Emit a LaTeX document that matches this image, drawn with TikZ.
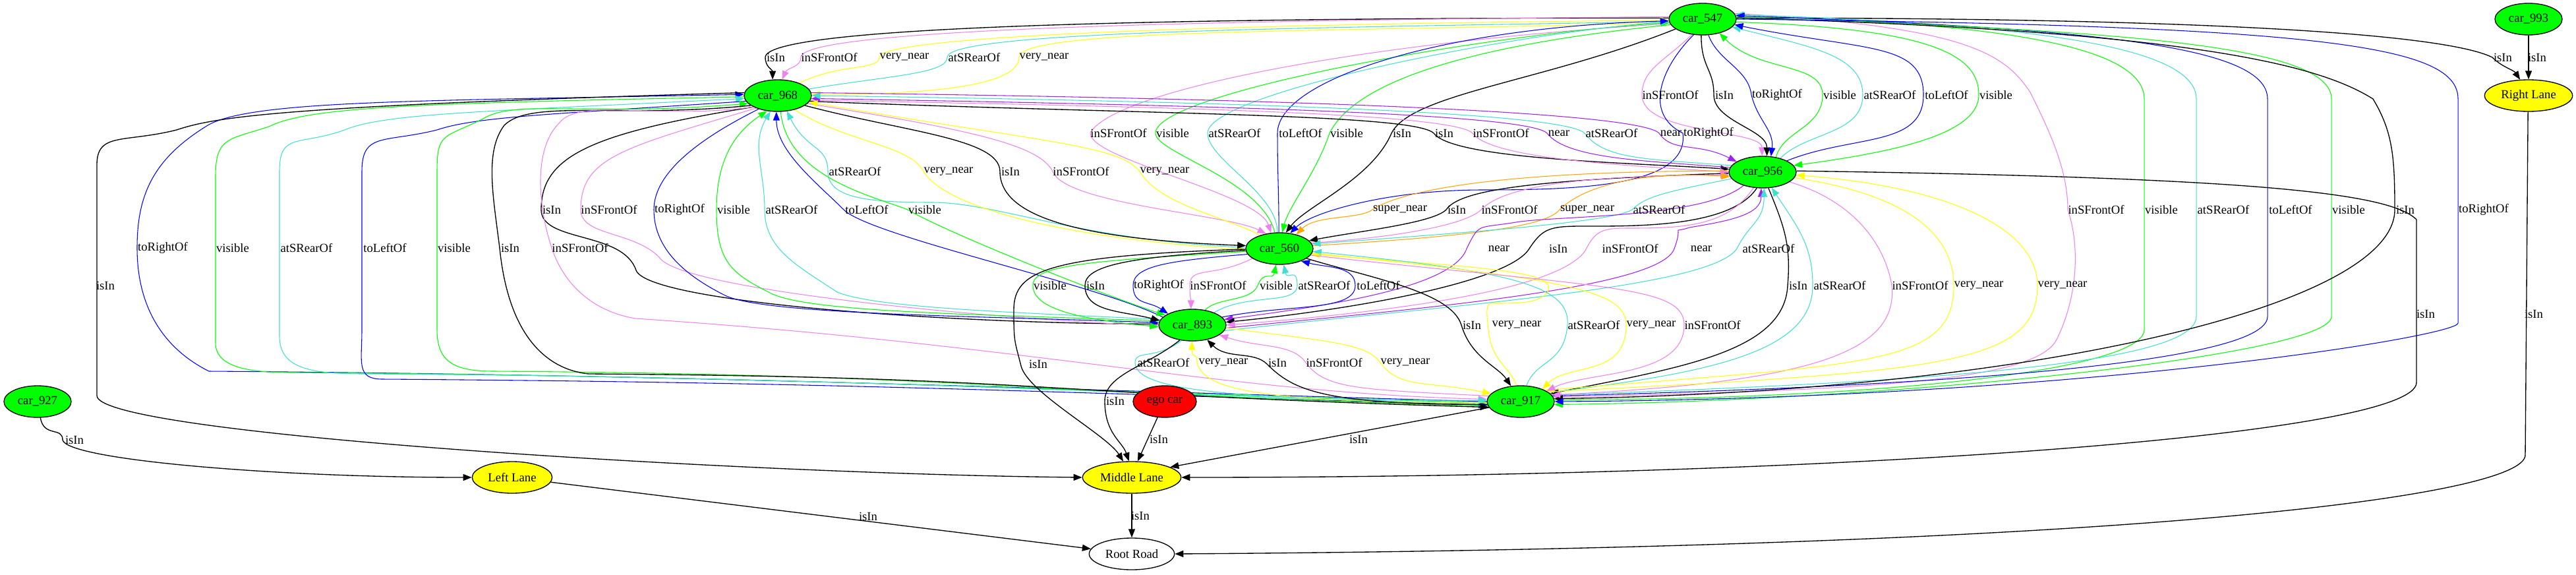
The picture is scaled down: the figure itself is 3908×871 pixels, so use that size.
\documentclass[tikz,border=0pt]{standalone}
\usepackage{fontspec}
\setmainfont{Liberation Serif}
\usetikzlibrary{shapes.geometric,arrows.meta}
\definecolor{gvgreen}{RGB}{0,255,0}
\definecolor{gvviolet}{RGB}{238,130,238}
\definecolor{gvturq}{RGB}{64,224,208}
\definecolor{gvblue}{RGB}{0,0,255}
\definecolor{gvyellow}{RGB}{255,255,0}
\definecolor{gvpurple}{RGB}{160,32,240}
\definecolor{gvorange}{RGB}{255,165,0}
\definecolor{gvred}{RGB}{255,0,0}
\pgfdeclarelayer{bglayer}
\pgfdeclarelayer{edgelayer}
\pgfsetlayers{bglayer,edgelayer,main}
\newcommand{\gvfont}{\fontsize{14pt}{16.8pt}\selectfont}
\begin{document}
\begin{tikzpicture}[x=0.75pt,y=0.75pt,
  car/.style={ellipse,draw=black,line width=1pt,fill=gvgreen,minimum width=76.5pt,minimum height=36pt,inner sep=0pt,font=\gvfont},
  lane/.style={ellipse,draw=black,line width=1pt,fill=gvyellow,minimum height=36pt,inner sep=0pt,font=\gvfont},
  egonode/.style={ellipse,draw=black,line width=1pt,fill=gvred,minimum width=72pt,minimum height=36pt,inner sep=0pt,font=\gvfont},
  rootnode/.style={ellipse,draw=black,line width=1pt,fill=white,minimum width=97pt,minimum height=36pt,inner sep=0pt,font=\gvfont},
  lbl/.style={inner sep=0pt,font=\gvfont},
  fw/.style={-{Triangle[length=9.75pt,width=7.5pt]}},
  bw/.style={{Triangle[length=9.75pt,width=7.5pt]}-},
  kb/.style={draw=black,line width=1pt},
  kv/.style={draw=gvviolet,line width=0.8pt},
  ky/.style={draw=gvyellow,line width=0.8pt},
  kt/.style={draw=gvturq,line width=0.8pt},
  kbl/.style={draw=gvblue,line width=0.8pt},
  kg/.style={draw=gvgreen,line width=0.8pt},
  kp/.style={draw=gvpurple,line width=0.8pt},
  ko/.style={draw=gvorange,line width=0.8pt}]
\begin{pgfonlayer}{bglayer}
\fill[white] (0,0) rectangle (3908,-871);
\end{pgfonlayer}
\useasboundingbox (0,0) rectangle (3908,-871);
% nodes
\node[car] (c547) at (2583,-29) {car\_547};
\node[car] (c993) at (3836,-29) {car\_993};
\node[car] (c968) at (1180,-145) {car\_968};
\node[lane,minimum width=100pt] (rl) at (3836,-145) {Right Lane};
\node[car] (c956) at (2674,-261) {car\_956};
\node[car] (c560) at (1941,-377) {car\_560};
\node[car] (c893) at (1809,-493) {car\_893};
\node[car] (c917) at (2307,-609) {car\_917};
\node[egonode] (ego) at (1767,-609) {ego car};
\node[car] (c927) at (57,-609) {car\_927};
\node[lane,minimum width=112pt] (ml) at (1717,-724) {Middle Lane};
\node[lane,minimum width=91pt] (ll) at (777,-724) {Left Lane};
\node[rootnode] (rr) at (1717,-840) {Root Road};
% labels
\node[lbl] (l1) at (1177,-87) {isIn};
\node[lbl] (l2) at (1258,-87) {inSFrontOf};
\node[lbl] (l3) at (1372,-87) {very\_near};
\node[lbl] (l4) at (1478,-87) {atSRearOf};
\node[lbl] (l5) at (1584,-87) {very\_near};
\node[lbl] (l6) at (3797,-87) {isIn};
\node[lbl] (l7) at (3849,-87) {isIn};
\node[lbl] (l8) at (2534,-144) {inSFrontOf};
\node[lbl] (l9) at (2616,-144) {isIn};
\node[lbl] (l10) at (2696,-144) {toRightOf};
\node[lbl] (l11) at (2791,-144) {visible};
\node[lbl] (l12) at (2867,-144) {atSRearOf};
\node[lbl] (l13) at (2953,-144) {toLeftOf};
\node[lbl] (l14) at (3028,-144) {visible};
\node[lbl] (l15) at (1697,-202) {inSFrontOf};
\node[lbl] (l16) at (1779,-202) {visible};
\node[lbl] (l17) at (1873,-202) {atSRearOf};
\node[lbl] (l18) at (1973,-202) {toLeftOf};
\node[lbl] (l19) at (2043,-202) {visible};
\node[lbl] (l20) at (2127,-202) {isIn};
\node[lbl] (l21) at (2191,-202) {isIn};
\node[lbl] (l22) at (2277,-202) {inSFrontOf};
\node[lbl] (l23) at (2365,-202) {near};
\node[lbl] (l24) at (2445,-202) {atSRearOf};
\node[lbl] (l25) at (2535,-202) {near};
\node[lbl] (l26) at (2592,-202) {toRightOf};
\node[lbl] (l27) at (1297,-260) {atSRearOf};
\node[lbl] (l28) at (1439,-260) {very\_near};
\node[lbl] (l29) at (1533,-260) {isIn};
\node[lbl] (l30) at (1640,-260) {inSFrontOf};
\node[lbl] (l31) at (1767,-260) {very\_near};
\node[lbl] (l32) at (837,-318) {isIn};
\node[lbl] (l33) at (924,-318) {inSFrontOf};
\node[lbl] (l34) at (1031,-318) {toRightOf};
\node[lbl] (l35) at (1113,-318) {visible};
\node[lbl] (l36) at (1201,-318) {atSRearOf};
\node[lbl] (l37) at (1315,-318) {toLeftOf};
\node[lbl] (l38) at (1403,-318) {visible};
\node[lbl] (l39) at (2124,-318) {super\_near};
\node[lbl] (l40) at (2210,-318) {isIn};
\node[lbl] (l41) at (2290,-318) {inSFrontOf};
\node[lbl] (l42) at (2408,-318) {super\_near};
\node[lbl] (l43) at (2517,-318) {atSRearOf};
\node[lbl] (l44) at (3180,-318) {inSFrontOf};
\node[lbl] (l45) at (3279,-318) {visible};
\node[lbl] (l46) at (3373,-318) {atSRearOf};
\node[lbl] (l47) at (3475,-318) {toLeftOf};
\node[lbl] (l48) at (3563,-318) {visible};
\node[lbl] (l49) at (3649,-318) {isIn};
\node[lbl] (l50) at (3768,-318) {toRightOf};
\node[lbl] (l51) at (247,-376) {toRightOf};
\node[lbl] (l52) at (353,-376) {visible};
\node[lbl] (l53) at (465,-376) {atSRearOf};
\node[lbl] (l54) at (584,-376) {toLeftOf};
\node[lbl] (l55) at (689,-376) {visible};
\node[lbl] (l56) at (774,-376) {isIn};
\node[lbl] (l57) at (880,-376) {inSFrontOf};
\node[lbl] (l58) at (2274,-377) {near};
\node[lbl] (l59) at (2364,-377) {isIn};
\node[lbl] (l60) at (2473,-377) {inSFrontOf};
\node[lbl] (l61) at (2581,-377) {near};
\node[lbl] (l62) at (2683,-377) {atSRearOf};
\node[lbl] (l63) at (160,-433) {isIn};
\node[lbl] (l64) at (1593,-433) {visible};
\node[lbl] (l65) at (1662,-433) {isIn};
\node[lbl] (l66) at (1758,-433) {toRightOf};
\node[lbl] (l67) at (1848,-433) {inSFrontOf};
\node[lbl] (l68) at (1936,-433) {visible};
\node[lbl] (l69) at (2009,-433) {atSRearOf};
\node[lbl] (l70) at (2091,-433) {toLeftOf};
\node[lbl] (l71) at (2728,-433) {isIn};
\node[lbl] (l72) at (2791,-433) {atSRearOf};
\node[lbl] (l73) at (2913,-433) {inSFrontOf};
\node[lbl] (l74) at (3002,-433) {very\_near};
\node[lbl] (l75) at (3129,-433) {very\_near};
\node[lbl] (l76) at (3680,-476) {isIn};
\node[lbl] (l77) at (3844,-476) {isIn};
\node[lbl] (l78) at (2233,-493) {isIn};
\node[lbl] (l79) at (2301,-493) {very\_near};
\node[lbl] (l80) at (2418,-493) {atSRearOf};
\node[lbl] (l81) at (2505,-493) {very\_near};
\node[lbl] (l82) at (2598,-493) {inSFrontOf};
\node[lbl] (l83) at (1575,-552) {isIn};
\node[lbl] (l84) at (1765,-550) {atSRearOf};
\node[lbl] (l85) at (1856,-550) {very\_near};
\node[lbl] (l86) at (1938,-550) {isIn};
\node[lbl] (l87) at (2024,-550) {inSFrontOf};
\node[lbl] (l88) at (2132,-550) {very\_near};
\node[lbl] (l89) at (1692,-608) {isIn};
\node[lbl] (l90) at (1758,-666) {isIn};
\node[lbl] (l91) at (2061,-666) {isIn};
\node[lbl] (l92) at (113,-667) {isIn};
\node[lbl] (l93) at (1730,-782) {isIn};
\node[lbl] (l94) at (1317,-783) {isIn};
\begin{pgfonlayer}{edgelayer}
% car_547 - car_968
\draw[kb,fw] (c547.178) .. controls +(-700,0) and +(0,50) .. (1161,-87) .. controls +(0,-15) and +(0,15) .. (c968.108);
\draw[kv,fw] (c547.176) .. controls +(-650,-5) and +(0,45) .. (1215,-87) .. controls +(0,-15) and +(8,18) .. (c968.75);
\draw[ky,bw] (c547.182) .. controls +(-600,-5) and +(0,35) .. (1334,-87) .. controls +(0,-20) and +(60,30) .. (c968.30);
\draw[kt,bw] (c547.184) .. controls +(-550,-10) and +(0,40) .. (1437,-87) .. controls +(0,-25) and +(120,20) .. (c968.12);
\draw[ky,fw] (c547.186) .. controls +(-500,-15) and +(0,45) .. (1546,-87) .. controls +(0,-40) and +(200,0) .. (c968.2);
% lanes right
\draw[kb,fw] (c547.2) .. controls +(800,0) and +(-60,30) .. (3781,-87) .. controls +(15,-15) and +(-10,15) .. (rl.118);
\draw[kb,fw] (c993) -- (rl);
% car_547 - car_956
\draw[kv,fw] (c547.235) .. controls +(-40,-40) and +(0,40) .. (2491,-144) .. controls +(0,-60) and +(0,40) .. (c956.92);
\draw[kb,fw] (c547.265) .. controls +(0,-50) and +(0,40) .. (2600,-144) .. controls +(0,-40) and +(0,40) .. (c956.75);
\draw[kbl,fw] (c547.290) .. controls +(15,-40) and +(-5,40) .. (2657,-144) .. controls +(10,-40) and +(5,40) .. (c956.62);
\draw[kg,bw] (c547.320) .. controls +(60,-60) and +(0,50) .. (2765,-144) .. controls +(0,-50) and +(10,40) .. (c956.48);
\draw[kt,bw] (c547.345) .. controls +(120,-30) and +(0,60) .. (2826,-144) .. controls +(0,-60) and +(40,40) .. (c956.38);
\draw[kbl,bw] (c547.350) .. controls +(200,-40) and +(0,80) .. (2918,-144) .. controls +(0,-80) and +(100,40) .. (c956.25);
\draw[kg,fw] (c547.355) .. controls +(300,-10) and +(0,60) .. (3002,-144) .. controls +(0,-60) and +(150,20) .. (c956.12);
% car_547 - car_560
\draw[kv,fw] (c547.188) .. controls +(-500,-30) and +(30,60) .. (1654,-202) .. controls +(0,-40) and +(-20,60) .. (c560.118);
\draw[kg,bw] (c547.186) .. controls +(-300,-20) and +(0,60) .. (1753,-202) .. controls +(0,-30) and +(-20,80) .. (c560.106);
\draw[kt,bw] (c547.184) .. controls +(-250,-20) and +(0,60) .. (1832,-202) .. controls +(0,-40) and +(0,60) .. (c560.97);
\draw[kbl,bw] (c547.183) .. controls +(-350,-10) and +(0,80) .. (1938,-202) .. controls +(0,-60) and +(0,60) .. (c560.92);
\draw[kg,fw] (c547.190) .. controls +(-300,-30) and +(40,80) .. (2017,-202) .. controls +(-20,-60) and +(10,40) .. (c560.80);
\draw[kb,fw] (c547.200) .. controls +(-200,-80) and +(30,60) .. (2111,-202) .. controls +(-30,-70) and +(30,40) .. (c560.68);
\draw[kbl,fw] (c547.240) .. controls +(-50,-50) and +(-60,30) .. (2553,-202) .. controls +(10,-80) and +(150,0) .. (2250,-288) .. controls +(-150,0) and +(30,30) .. (c560.55);
% car_968 - car_956
\draw[kb,fw] (c968.350) .. controls +(500,-20) and +(-30,30) .. (2175,-202) .. controls +(30,-40) and +(-150,10) .. (c956.175);
\draw[kv,fw] (c968.352) .. controls +(550,-10) and +(-30,30) .. (2234,-202) .. controls +(30,-40) and +(-150,10) .. (c956.180);
\draw[kp,bw] (c968.355) .. controls +(600,-10) and +(-30,30) .. (2347,-202) .. controls +(30,-40) and +(-120,10) .. (c956.172);
\draw[kt,bw] (c968.0) .. controls +(700,-10) and +(-30,30) .. (2404,-202) .. controls +(30,-40) and +(-130,10) .. (c956.168);
\draw[kp,fw] (c968.5) .. controls +(800,-10) and +(-30,30) .. (2517,-202) .. controls +(20,-30) and +(-60,30) .. (c956.158);
% car_968 - car_560
\draw[kt,bw] (c968.300) .. controls +(30,-60) and +(0,40) .. (1256,-260) .. controls +(0,-40) and +(-100,0) .. (1414,-307) .. controls +(100,0) and +(-250,10) .. (c560.178);
\draw[ky,fw] (c968.320) .. controls +(80,-50) and +(-20,40) .. (1401,-260) .. controls +(30,-50) and +(-300,20) .. (c560.182);
\draw[kb,fw] (c968.340) .. controls +(150,-40) and +(0,50) .. (1517,-260) .. controls +(0,-70) and +(-250,10) .. (c560.175);
\draw[kv,fw] (c968.345) .. controls +(250,-40) and +(-20,40) .. (1597,-260) .. controls +(20,-50) and +(-60,30) .. (c560.132);
\draw[ky,bw] (c968.348) .. controls +(350,-60) and +(-30,40) .. (1729,-260) .. controls +(30,-50) and +(-60,30) .. (c560.145);
% car_968 - car_893
\draw[kb,fw] (c968.205) .. controls +(-250,-40) and +(0,80) .. (821,-318) .. controls +(0,-50) and +(-20,60) .. (965,-410) .. controls +(20,-50) and +(-300,0) .. (c893.178);
\draw[kv,fw] (c968.210) .. controls +(-200,-60) and +(0,80) .. (881,-318) .. controls +(0,-40) and +(-40,40) .. (1000,-390) .. controls +(30,-50) and +(-250,10) .. (c893.181);
\draw[kbl,fw] (c968.215) .. controls +(-80,-40) and +(0,60) .. (992,-318) .. controls +(0,-60) and +(-60,30) .. (1100,-448) .. controls +(60,-30) and +(-250,10) .. (c893.176);
\draw[kg,bw] (c968.235) .. controls +(-60,-40) and +(0,60) .. (1087,-318) .. controls +(0,-80) and +(-60,30) .. (1170,-445) .. controls +(60,-30) and +(-250,10) .. (c893.173);
\draw[kt,bw] (c968.245) .. controls +(-30,-50) and +(0,60) .. (1160,-318) .. controls +(0,-60) and +(-60,40) .. (1270,-443) .. controls +(60,-25) and +(-200,10) .. (c893.170);
\draw[kbl,bw] (c968.265) .. controls +(0,-60) and +(-40,40) .. (1280,-318) .. controls +(40,-40) and +(-100,50) .. (c893.165);
\draw[kg,fw] (c968.280) .. controls +(10,-100) and +(-50,20) .. (1377,-318) .. controls +(50,-30) and +(-120,40) .. (c893.160);
% car_956 - car_560
\draw[ko,fw] (c956.178) .. controls +(-400,0) and +(30,20) .. (2082,-318) .. controls +(-20,-15) and +(30,30) .. (c560.40);
\draw[kb,fw] (c956.182) .. controls +(-300,-10) and +(20,30) .. (2194,-318) .. controls +(-20,-20) and +(80,15) .. (c560.15);
\draw[kv,fw] (c560.10) .. controls +(150,10) and +(-20,-20) .. (2247,-318) .. controls +(20,20) and +(-300,0) .. (c956.185);
\draw[ko,fw] (c560.5) .. controls +(250,15) and +(-20,-25) .. (2366,-318) .. controls +(30,30) and +(-150,10) .. (c956.188);
\draw[kt,fw] (c956.192) .. controls +(-100,-20) and +(20,20) .. (2476,-318) .. controls +(-30,-20) and +(200,15) .. (c560.8);
% car_547 - car_917
\draw[kv,fw] (c547.10) .. controls +(350,-20) and +(-40,60) .. (3080,-140) .. controls +(30,-60) and +(0,60) .. (3137,-318) .. controls +(20,-60) and +(30,60) .. (3120,-515) .. controls +(-30,-60) and +(500,10) .. (c917.8);
\draw[kg,bw] (c547.5) .. controls +(400,-10) and +(0,80) .. (3253,-150) -- (3253,-500) .. controls +(0,-60) and +(500,0) .. (c917.3);
\draw[kt,bw] (c547.8) .. controls +(450,-15) and +(0,80) .. (3332,-150) -- (3332,-480) .. controls +(0,-70) and +(600,20) .. (c917.12);
\draw[kbl,bw] (c547.6) .. controls +(550,-20) and +(0,80) .. (3440,-150) -- (3440,-480) .. controls +(0,-70) and +(600,15) .. (c917.10);
\draw[kg,fw] (c547.3) .. controls +(600,-20) and +(0,80) .. (3537,-150) -- (3537,-480) .. controls +(0,-60) and +(500,5) .. (c917.355);
\draw[kb,fw] (c547.2) .. controls +(700,-20) and +(-80,50) .. (3600,-150) .. controls +(30,-50) and +(0,80) .. (3633,-318) .. controls +(0,-150) and +(700,10) .. (c917.5);
\draw[kbl,fw] (c547.0) .. controls +(900,-10) and +(0,80) .. (3729,-150) -- (3729,-490) .. controls +(0,-20) and +(800,5) .. (c917.0);
% car_968 - car_917 (far left)
\draw[kbl,bw] (c968.178) .. controls +(-500,-10) and +(60,40) .. (312,-192) .. controls +(-80,-50) and +(0,80) .. (208,-376) .. controls +(0,-100) and +(-60,30) .. (317,-563) .. controls +(700,-5) and +(-700,20) .. (c917.180);
\draw[kg,fw] (c968.182) .. controls +(-500,-10) and +(60,30) .. (408,-192) .. controls +(-60,-20) and +(0,60) .. (327,-267) -- (327,-520) .. controls +(0,-40) and +(-60,0) .. (446,-565) .. controls +(700,-5) and +(-700,20) .. (c917.182);
\draw[kt,bw] (c968.185) .. controls +(-400,-20) and +(60,25) .. (523,-197) .. controls +(-70,-25) and +(0,60) .. (424,-260) -- (424,-510) .. controls +(0,-50) and +(-80,0) .. (554,-567) .. controls +(700,-5) and +(-700,20) .. (c917.184);
\draw[kbl,fw] (c968.190) .. controls +(-300,-20) and +(60,20) .. (663,-197) .. controls +(-80,-20) and +(0,60) .. (549,-260) -- (549,-500) .. controls +(0,-50) and +(-40,0) .. (580,-575) .. controls +(700,-5) and +(-700,20) .. (c917.186);
\draw[kg,bw] (c968.195) .. controls +(-250,-20) and +(50,30) .. (733,-180) .. controls +(-60,-30) and +(0,60) .. (663,-260) -- (663,-500) .. controls +(0,-50) and +(-60,0) .. (750,-563) .. controls +(700,-5) and +(-700,20) .. (c917.188);
\draw[kb,fw] (c968.200) .. controls +(-200,-20) and +(40,40) .. (765,-190) .. controls +(-30,-40) and +(-10,80) .. (758,-376) .. controls +(15,-150) and +(-50,5) .. (893,-567) .. controls +(700,-5) and +(-700,20) .. (c917.190);
\draw[kv,fw] (c968.205) .. controls +(-150,-20) and +(30,40) .. (848,-187) .. controls +(-40,-40) and +(-20,60) .. (837,-376) .. controls +(20,-60) and +(-60,10) .. (964,-483) .. controls +(600,-40) and +(-400,10) .. (c917.176);
% car_956 - car_893
\draw[kp,fw] (c956.215) .. controls +(-60,-50) and +(60,10) .. (2300,-337) .. controls +(-60,-10) and +(20,40) .. (2225,-377) .. controls +(-20,-60) and +(150,20) .. (c893.10);
\draw[kb,fw] (c956.250) .. controls +(-40,-60) and +(80,0) .. (2400,-343) .. controls +(-50,0) and +(20,30) .. (2320,-377) .. controls +(-30,-50) and +(200,20) .. (c893.5);
\draw[kv,fw] (c956.240) .. controls +(-40,-60) and +(80,0) .. (2470,-346) .. controls +(-40,0) and +(15,30) .. (2405,-380) .. controls +(-40,-60) and +(250,20) .. (c893.0);
\draw[kp,bw] (c956.265) .. controls +(0,-40) and +(60,10) .. (2563,-345) .. controls +(-30,-10) and +(15,40) .. (2540,-377) .. controls +(-20,-60) and +(300,30) .. (c893.355);
\draw[kt,bw] (c956.275) .. controls +(0,-50) and +(20,40) .. (2635,-377) .. controls +(-40,-60) and +(350,40) .. (c893.350);
% car_968 -> Middle Lane
\draw[kb,fw] (c968.175) .. controls +(-700,-20) and +(60,20) .. (268,-197) .. controls +(-80,-20) and +(0,50) .. (147,-250) -- (147,-600) .. controls +(0,-60) and +(-500,5) .. (ml.180);
% car_560 - car_893
\draw[kg,fw] (c560.185) .. controls +(-250,-15) and +(0,30) .. (1567,-433) .. controls +(0,-40) and +(-100,10) .. (c893.183);
\draw[kb,fw] (c560.183) .. controls +(-180,-10) and +(0,30) .. (1646,-433) .. controls +(0,-40) and +(-60,15) .. (c893.172);
\draw[kbl,fw] (c560.190) .. controls +(-120,-10) and +(0,30) .. (1719,-433) .. controls +(0,-30) and +(-30,20) .. (c893.155);
\draw[kv,fw] (c560.200) .. controls +(-60,-30) and +(0,30) .. (1805,-433) .. controls +(0,-20) and +(0,15) .. (c893.95);
\draw[kg,bw] (c560.258) .. controls +(-5,-25) and +(10,25) .. (1908,-433) .. controls +(-10,-25) and +(20,20) .. (c893.50);
\draw[kt,bw] (c560.285) .. controls +(5,-25) and +(0,30) .. (1968,-433) .. controls +(0,-30) and +(50,30) .. (c893.30);
\draw[kbl,bw] (c560.330) .. controls +(40,-10) and +(0,30) .. (2056,-433) .. controls +(0,-40) and +(100,20) .. (c893.15);
% car_956 - car_917
\draw[kb,fw] (c956.290) .. controls +(25,-60) and +(5,60) .. (2712,-433) .. controls +(-5,-100) and +(200,40) .. (c917.15);
\draw[kt,bw] (c956.300) .. controls +(40,-60) and +(0,60) .. (2750,-433) .. controls +(0,-100) and +(250,30) .. (c917.18);
\draw[kv,fw] (c956.340) .. controls +(100,-30) and +(-10,60) .. (2870,-433) .. controls +(10,-100) and +(400,20) .. (c917.12);
\draw[ky,fw] (c956.350) .. controls +(200,-30) and +(0,60) .. (2964,-433) .. controls +(0,-120) and +(500,40) .. (c917.25);
\draw[ky,bw] (c956.355) .. controls +(250,-20) and +(0,80) .. (3091,-433) .. controls +(0,-120) and +(600,30) .. (c917.20);
% lanes
\draw[kb,fw] (c956.2) .. controls +(700,-10) and +(-40,40) .. (3666,-333) -- (3666,-580) .. controls +(0,-80) and +(1000,0) .. (ml.0);
\draw[kb,fw] (rl.268) -- (3831,-690) .. controls +(0,-60) and +(1500,10) .. (rr.0);
% car_560 - car_917
\draw[kb,fw] (c560.340) .. controls +(100,-30) and +(-15,50) .. (2217,-493) .. controls +(15,-50) and +(-20,30) .. (c917.122);
\draw[ky,bw] (c560.350) .. controls +(250,-20) and +(10,30) .. (2349,-440) .. controls +(-10,-20) and +(40,0) .. (2267,-460) .. controls +(-10,0) and +(-5,40) .. (2258,-500) .. controls +(5,-50) and +(-10,30) .. (c917.105);
\draw[kt,bw] (c560.355) .. controls +(300,-30) and +(5,60) .. (2378,-493) .. controls +(-5,-60) and +(15,40) .. (c917.70);
\draw[ky,fw] (c560.352) .. controls +(400,-40) and +(0,50) .. (2467,-493) .. controls +(0,-80) and +(40,40) .. (c917.30);
\draw[kv,fw] (c560.348) .. controls +(450,-50) and +(0,60) .. (2555,-493) .. controls +(0,-80) and +(60,30) .. (c917.22);
% car_560 -> Middle Lane
\draw[kb,fw] (c560.181) .. controls +(-300,-10) and +(0,60) .. (1538,-470) .. controls +(0,-50) and +(-10,40) .. (1549,-555) .. controls +(10,-40) and +(-25,40) .. (ml.118);
% car_893 - car_917
\draw[kt,fw] (c893.235) .. controls +(-40,-30) and +(0,20) .. (1722,-550) .. controls +(0,-40) and +(-400,0) .. (c917.178);
\draw[ky,bw] (c893.268) .. controls +(0,-30) and +(0,20) .. (1816,-550) .. controls +(10,-40) and +(-350,0) .. (c917.182);
\draw[kb,bw] (c893.315) .. controls +(30,-30) and +(-20,20) .. (1922,-552) .. controls +(40,-40) and +(-250,0) .. (c917.185);
\draw[kv,bw] (c893.340) .. controls +(60,-20) and +(-20,30) .. (1981,-550) .. controls +(30,-40) and +(-200,10) .. (c917.170);
\draw[ky,fw] (c893.355) .. controls +(150,-20) and +(-20,30) .. (2094,-550) .. controls +(30,-40) and +(-100,20) .. (c917.165);
% to Middle Lane, Left Lane, Root Road
\draw[kb,fw] (c893.230) .. controls +(-50,-40) and +(0,40) .. (1676,-608) .. controls +(0,-50) and +(-10,30) .. (ml.100);
\draw[kb,fw] (ego) -- (ml.70);
\draw[kb,fw] (c917) -- (ml.15);
\draw[kb,fw] (c927.280) .. controls +(5,-30) and +(0,20) .. (95,-667) .. controls +(5,-30) and +(-300,0) .. (ll.180);
\draw[kb,fw] (ml) -- (rr);
\draw[kb,fw] (ll) -- (rr);
\end{pgfonlayer}
\end{tikzpicture}
\end{document}
